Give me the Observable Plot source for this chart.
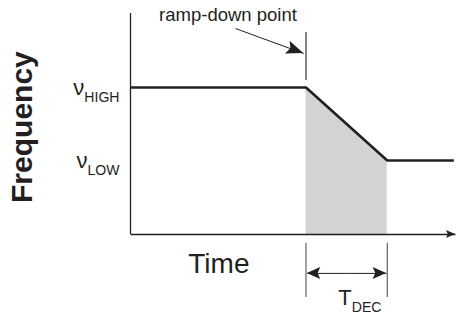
<!DOCTYPE html>
<html><head><meta charset="utf-8">
<script src="https://cdn.jsdelivr.net/npm/d3@7"></script>
<script src="https://cdn.jsdelivr.net/npm/@observablehq/plot@0.6"></script>
<style>
body{margin:0;background:#fff;}
</style></head><body><div id="chart"></div>
<script>
// ---- data (arbitrary time / frequency units) ----
const time = [0, 54, 79, 99.5];
const freq = [66.5, 66.5, 33.5, 33.5];
const rampTime = [54, 79];
const rampFreq = [66.5, 33.5];
const levelLabels = ["ν_HIGH", "ν_LOW"];
const levelValues = [66.5, 33.5];
const xLabel = "Time";
const yLabel = "Frequency";
const annotation = "ramp-down point";
const durationLabel = "T_DEC";

const profile = time.map((t, i) => ({t, f: freq[i]}));
const ramp = rampTime.map((t, i) => ({t, f: rampFreq[i]}));
const levels = levelLabels.map((l, i) => ({label: l, f: levelValues[i]}));

const ink = "#231f20";

// arrow shafts (data units) and heads
const arrows = [
  {x1: 0, y1: 0, x2: 100, y2: 0, len: 9, wid: 8, sw: 1.3},
  {x1: 32.3, y1: 93.2, x2: 53.3, y2: 81.9, len: 17, wid: 13.5, sw: 1},
  {x1: 66.5, y1: -17.6, x2: 54.4, y2: -17.6, len: 13.5, wid: 12, sw: 1},
  {x1: 66.5, y1: -17.6, x2: 78.8, y2: -17.6, len: 13.5, wid: 12, sw: 1}
];

function arrowHeads(index, scales) {
  const g = d3.create("svg:g").attr("fill", ink);
  for (const a of arrows) {
    const p1 = [scales.x(a.x1), scales.y(a.y1)], p2 = [scales.x(a.x2), scales.y(a.y2)];
    const dx = p2[0] - p1[0], dy = p2[1] - p1[1], d = Math.hypot(dx, dy);
    const ux = dx / d, uy = dy / d, nx = -uy, ny = ux;
    const bx = p2[0] - ux * a.len, by = p2[1] - uy * a.len;
    const cx = p2[0] - ux * a.len * 0.8, cy = p2[1] - uy * a.len * 0.8;
    g.append("path").attr("d",
      `M${p2[0]},${p2[1]}L${bx + nx * a.wid / 2},${by + ny * a.wid / 2}L${cx},${cy}L${bx - nx * a.wid / 2},${by - ny * a.wid / 2}Z`);
  }
  return g.node();
}

const plot = Plot.plot({
  width: 457, height: 314,
  marginLeft: 130, marginRight: 2, marginTop: 13, marginBottom: 80,
  x: {domain: [0, 100], axis: null},
  y: {domain: [0, 100], axis: null},
  style: {fontFamily: "'Liberation Sans', Arial, Helvetica, sans-serif", background: "#fff", color: ink},
  marks: [
    Plot.areaY(ramp, {x: "t", y: "f", fill: "#d1d3d4"}),
    Plot.ruleX([0], {y1: 0, y2: 100, stroke: ink, strokeWidth: 1.3}),
    Plot.link(arrows, {x1: "x1", y1: "y1", x2: "x2", y2: "y2", stroke: ink, strokeWidth: d => d.sw}),
    Plot.line(profile, {x: "t", y: "f", stroke: ink, strokeWidth: 2.6, strokeLinejoin: "miter", strokeLinecap: "butt"}),
    Plot.ruleX([rampTime[0]], {y1: 69.7, y2: 91.4, stroke: ink, strokeWidth: 1.1}),
    Plot.ruleX(rampTime, {y1: -4, y2: -28.5, stroke: "#444", strokeWidth: 1}),
    arrowHeads,
    Plot.text(levels, {x: 0, y: "f", text: "label", textAnchor: "end", dx: -11, fontSize: 22, lineAnchor: "middle", fill: ink}),
    Plot.text([xLabel], {x: 27.2, y: -17.2, text: d => d, fontSize: 28, lineAnchor: "bottom", fill: ink}),
    Plot.text([yLabel], {x: -33.2, y: 48.6, text: d => d, fontSize: 30, fontWeight: "bold", rotate: -90, lineAnchor: "middle", fill: ink}),
    Plot.text([annotation], {x: 30, y: 96.4, text: d => d, fontSize: 18.5, lineAnchor: "bottom", fill: ink}),
    Plot.text([durationLabel], {x: 70.6, y: -32.1, text: d => d, fontSize: 22, lineAnchor: "bottom", fill: ink})
  ]
});

// render "_" as subscript
d3.select(plot).selectAll("text").each(function () {
  const s = this.textContent;
  if (!s.includes("_")) return;
  const [main, sub] = s.split("_");
  this.textContent = "";
  d3.select(this).append("tspan").text(main);
  d3.select(this).append("tspan").attr("font-size", "0.64em").attr("dy", "0.5em").text(sub);
});

document.getElementById("chart").appendChild(plot);
</script>
</body></html>
